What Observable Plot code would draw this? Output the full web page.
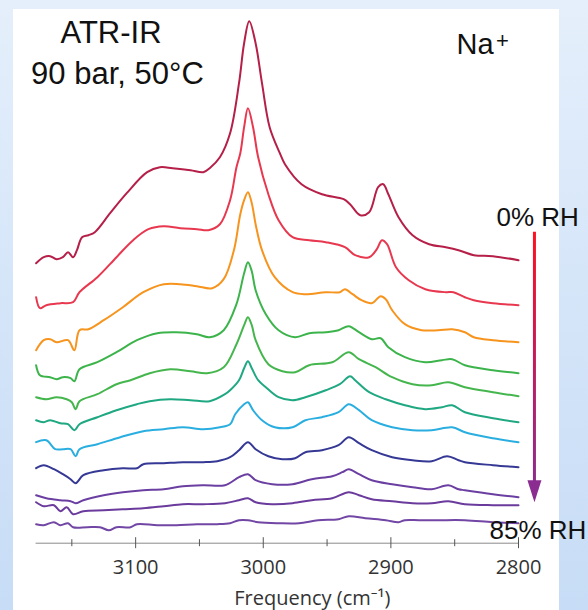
<!DOCTYPE html>
<html>
<head>
<meta charset="utf-8">
<script src="https://cdn.jsdelivr.net/npm/d3@7"></script>
<script src="https://cdn.jsdelivr.net/npm/@observablehq/plot@0.6"></script>
<style>
  html, body { margin: 0; padding: 0; }
  #page {
    position: relative; width: 588px; height: 610px; overflow: hidden;
    background: linear-gradient(to bottom, #e5effb 0%, #d6e6f9 45%, #c7dcf6 100%);
  }
  #panel { position: absolute; left: 13px; top: 9px; width: 546px; height: 601px; background: #fff; }
  #chart { position: absolute; left: 0; top: 0; }
</style>
</head>
<body>
<div id="page"><div id="panel"></div><div id="chart"></div></div>
<script>
// ATR-IR spectra of the Na+ sample at 90 bar and 50 °C, stacked from 0% RH (top) to 85% RH (bottom).
// Each spectrum: [wavenumber (cm-1), offset absorbance (mAU)].
const spectrum01 = [[3178,280],[3172,286],[3167,287],[3162,284],[3157,286],[3153,291],[3149,286],[3146,293],[3142,306],[3137,308],[3132,311],[3120,330],[3107,350],[3091,371],[3081,376],[3071,375],[3057,373],[3047,371],[3042,375],[3034,386],[3026,410],[3019,460],[3015,500],[3011,522],[3006,500],[3001,460],[2995,416],[2987,390],[2983,379],[2970,359],[2954,349],[2937,344],[2932,339],[2924,328],[2917,331],[2910,356],[2906,359],[2902,349],[2894,326],[2883,308],[2870,299],[2857,296],[2847,293],[2835,288],[2820,287],[2800,283]];
const spectrum02 = [[3178,246],[3175,235],[3170,238],[3159,240],[3149,241],[3144,251],[3130,266],[3115,286],[3102,303],[3090,314],[3078,317],[3065,315],[3052,314],[3043,313],[3034,319],[3026,343],[3021,376],[3018,390],[3015,416],[3012,435],[3008,416],[3004,386],[2996,349],[2988,323],[2977,306],[2964,303],[2951,301],[2936,296],[2928,288],[2917,286],[2911,294],[2907,303],[2903,299],[2896,276],[2886,263],[2873,254],[2857,251],[2851,251],[2842,246],[2835,243],[2820,240],[2800,238]];
const spectrum03 = [[3178,193],[3172,203],[3167,204],[3162,201],[3153,203],[3148,193],[3144,213],[3137,214],[3125,223],[3110,236],[3094,251],[3078,259],[3065,259],[3052,257],[3040,255],[3031,264],[3023,293],[3018,329],[3015,343],[3012,351],[3009,340],[3006,319],[3001,293],[2991,266],[2977,251],[2967,249],[2951,251],[2940,251],[2936,254],[2930,249],[2923,243],[2915,240],[2908,247],[2904,244],[2899,233],[2889,219],[2876,213],[2863,213],[2852,214],[2842,211],[2835,206],[2820,203],[2800,201]];
const spectrum04 = [[3178,178],[3175,168],[3167,166],[3162,164],[3157,166],[3151,165],[3148,162],[3144,174],[3130,181],[3115,191],[3099,203],[3083,210],[3068,211],[3052,209],[3042,206],[3031,213],[3021,239],[3015,270],[3012,281],[3009,272],[3006,253],[2998,229],[2988,213],[2975,206],[2964,210],[2951,211],[2941,213],[2933,217],[2925,211],[2915,204],[2908,205],[2902,196],[2889,186],[2873,181],[2860,183],[2852,184],[2842,178],[2820,173],[2800,170]];
const spectrum05 = [[3178,146],[3170,144],[3162,146],[3154,144],[3150,141],[3147,134],[3144,142],[3130,149],[3115,159],[3104,163],[3089,170],[3073,174],[3057,172],[3044,170],[3031,176],[3021,199],[3015,218],[3012,226],[3009,218],[3006,203],[2996,179],[2985,172],[2975,171],[2964,178],[2946,181],[2933,191],[2925,184],[2912,176],[2899,166],[2883,159],[2868,158],[2855,161],[2842,156],[2820,151],[2800,147]];
const spectrum06 = [[3178,123],[3172,121],[3167,123],[3159,120],[3153,119],[3148,113],[3144,119],[3130,126],[3115,133],[3099,139],[3089,142],[3073,144],[3057,143],[3042,142],[3030,149],[3026,153],[3019,163],[3015,175],[3012,182],[3009,175],[3004,163],[2998,156],[2988,146],[2977,143],[2967,146],[2951,153],[2940,159],[2932,167],[2928,163],[2917,151],[2904,144],[2889,138],[2873,134],[2860,136],[2852,138],[2842,131],[2820,125],[2800,121]];
const spectrum07 = [[3178,101],[3170,103],[3163,94],[3157,94],[3151,94],[3147,87],[3144,94],[3130,99],[3112,106],[3094,112],[3078,114],[3063,116],[3047,114],[3034,116],[3026,119],[3022,129],[3015,139],[3012,141],[3008,133],[3001,123],[2991,116],[2977,116],[2967,123],[2954,126],[2941,131],[2933,139],[2925,133],[2915,123],[2899,116],[2883,113],[2868,113],[2852,116],[2842,111],[2820,105],[2800,101]];
const spectrum08 = [[3178,75],[3172,78],[3164,74],[3157,69],[3151,64],[3147,60],[3141,68],[3125,73],[3110,75],[3099,75],[3094,79],[3078,80],[3063,81],[3047,81],[3036,82],[3026,86],[3019,93],[3012,101],[3006,94],[2996,87],[2985,84],[2975,85],[2967,91],[2954,93],[2941,98],[2933,106],[2925,100],[2915,93],[2899,86],[2883,83],[2868,82],[2856,87],[2847,83],[2842,81],[2820,78],[2800,76]];
const spectrum09 = [[3178,48],[3170,45],[3159,43],[3151,42],[3147,40],[3141,43],[3125,48],[3110,51],[3094,53],[3078,54],[3063,57],[3047,58],[3030,58],[3019,66],[3012,69],[3006,63],[2993,59],[2977,59],[2962,64],[2946,67],[2938,71],[2933,74],[2925,69],[2915,63],[2899,59],[2883,56],[2868,54],[2855,58],[2847,54],[2842,53],[2820,49],[2800,46]];
const spectrum10 = [[3178,41],[3172,37],[3164,38],[3159,32],[3154,36],[3149,29],[3141,32],[3125,33],[3110,34],[3094,35],[3078,37],[3063,39],[3047,39],[3030,40],[3019,43],[3012,45],[3006,41],[2993,39],[2977,40],[2962,43],[2946,45],[2933,51],[2925,48],[2915,44],[2899,42],[2883,40],[2868,40],[2855,42],[2842,39],[2820,38],[2800,38]];
const spectrum11 = [[3178,19],[3172,18],[3164,21],[3159,18],[3153,20],[3149,16],[3138,16],[3128,16],[3121,13],[3115,16],[3104,16],[3099,19],[3083,18],[3068,18],[3052,19],[3036,19],[3026,20],[3019,23],[3012,23],[3004,21],[2988,20],[2972,20],[2957,23],[2941,24],[2933,27],[2920,25],[2904,23],[2894,21],[2889,23],[2878,23],[2863,23],[2842,23],[2820,21],[2800,20]];

const spectra = [spectrum01, spectrum02, spectrum03, spectrum04, spectrum05, spectrum06,
                 spectrum07, spectrum08, spectrum09, spectrum10, spectrum11];
const spectrumColors = ["#b51f48", "#e8384f", "#f7941d", "#3cb44b", "#45b64d", "#1fa882",
                        "#2aaee0", "#353894", "#6b3fa2", "#6a3b9c", "#7146a4"];

const majorTicks = [3100, 3000, 2900, 2800];
const minorTicks = [3150, 3050, 2950, 2850];
const xLabel = "Frequency (cm\u207B\u00B9)";

// Humidity arrow beside the stack (wavenumber position, start and end in mAU)
const rhArrow = {x: 2787.5, from: 311, to: 55, head: 52};
const rhLabels = {top: "0% RH", bottom: "85% RH"};
const conditionLines = ["ATR-IR", "90 bar, 50\u00B0C"];
const cationLabel = ["Na", "+"];

const rows = spectra.flatMap((pts, i) =>
  pts.map(([frequency, absorbance]) => ({spectrum: i, frequency, absorbance})));

// Narrow filled arrowhead pointing down
const arrowHead = {
  draw(context, size) {
    const w = Math.sqrt(size);
    context.moveTo(-w * 0.35, -w * 0.55);
    context.lineTo(w * 0.35, -w * 0.55);
    context.lineTo(0, w * 0.55);
    context.closePath();
  }
};

const sans = "'Liberation Sans', Arial, sans-serif";
const axisFont = "'Open Sans', 'Noto Sans', sans-serif";

const chart = Plot.plot({
  width: 588,
  height: 610,
  marginLeft: 35.6,
  marginRight: 70,
  marginTop: 12.7,
  marginBottom: 67.3,
  style: {background: "transparent", overflow: "visible", fontFamily: axisFont},
  x: {domain: [3178, 2800], label: null},
  y: {domain: [0, 530], axis: null},
  marks: [
    Plot.ruleY([0], {stroke: "#8a8a8a", strokeWidth: 1}),
    Plot.axisX(minorTicks, {tickSize: 7, dy: -3.5, tickFormat: () => "", stroke: "#555", label: null}),
    Plot.axisX(majorTicks, {tickSize: 11, dy: -5.5, tickFormat: () => "", stroke: "#555", label: null}),
    Plot.axisX(majorTicks, {tickSize: 0, tickPadding: 17, tickFormat: d => String(d),
                            fontSize: 20, fill: "#333", label: null}),
    Plot.text([xLabel], {text: d => d, frameAnchor: "bottom", dx: 35, dy: 48, lineAnchor: "top",
                         fontSize: 20, fill: "#333", fontFamily: axisFont}),
    Plot.line(rows, {
      x: "frequency", y: "absorbance", z: "spectrum",
      stroke: d => spectrumColors[d.spectrum],
      strokeWidth: 2, curve: "catmull-rom", strokeLinejoin: "round", strokeLinecap: "round"
    }),
    Plot.ruleX([rhArrow], {x: "x", y1: "from", y2: "to", stroke: "url(#rh-gradient)", strokeWidth: 3}),
    Plot.dot([rhArrow], {x: "x", y: "head", symbol: arrowHead, r: 11.3, fill: "#8a2c90", stroke: null}),
    Plot.text([conditionLines[0]], {text: d => d, frameAnchor: "top-left", dx: 24.4, dy: 7.3,
      textAnchor: "start", lineAnchor: "top", fontSize: 31, fill: "#111", fontFamily: sans}),
    Plot.text([conditionLines[1]], {text: d => d, frameAnchor: "top-left", dx: -5, dy: 49,
      textAnchor: "start", lineAnchor: "top", fontSize: 31, fill: "#111", fontFamily: sans}),
    Plot.text([cationLabel[0]], {text: d => d, frameAnchor: "top-left", dx: 420.5, dy: 20.6,
      textAnchor: "start", lineAnchor: "top", fontSize: 29, fill: "#111", fontFamily: sans}),
    Plot.text([cationLabel[1]], {text: d => d, frameAnchor: "top-left", dx: 460, dy: 19.3,
      textAnchor: "start", lineAnchor: "top", fontSize: 22, fill: "#111", fontFamily: sans}),
    Plot.text([rhLabels.top], {text: d => d, frameAnchor: "top-left", dx: 460.4, dy: 194,
      textAnchor: "start", lineAnchor: "top", fontSize: 26, fill: "#111", fontFamily: sans}),
    Plot.text([rhLabels.bottom], {text: d => d, frameAnchor: "top-left", dx: 453.4, dy: 507.3,
      textAnchor: "start", lineAnchor: "top", fontSize: 26, fill: "#111", fontFamily: sans})
  ]
});

// Red-to-purple gradient along the humidity arrow, placed with the y scale
const y = chart.scale("y");
const grad = d3.select(chart).insert("defs", ":first-child")
  .append("linearGradient")
  .attr("id", "rh-gradient")
  .attr("gradientUnits", "userSpaceOnUse")
  .attr("x1", 0).attr("x2", 0)
  .attr("y1", y.apply(rhArrow.from))
  .attr("y2", y.apply(rhArrow.to));
grad.append("stop").attr("offset", "0%").attr("stop-color", "#ff1020");
grad.append("stop").attr("offset", "45%").attr("stop-color", "#c81a55");
grad.append("stop").attr("offset", "100%").attr("stop-color", "#8a2c90");

document.getElementById("chart").append(chart);
</script>
</body>
</html>
